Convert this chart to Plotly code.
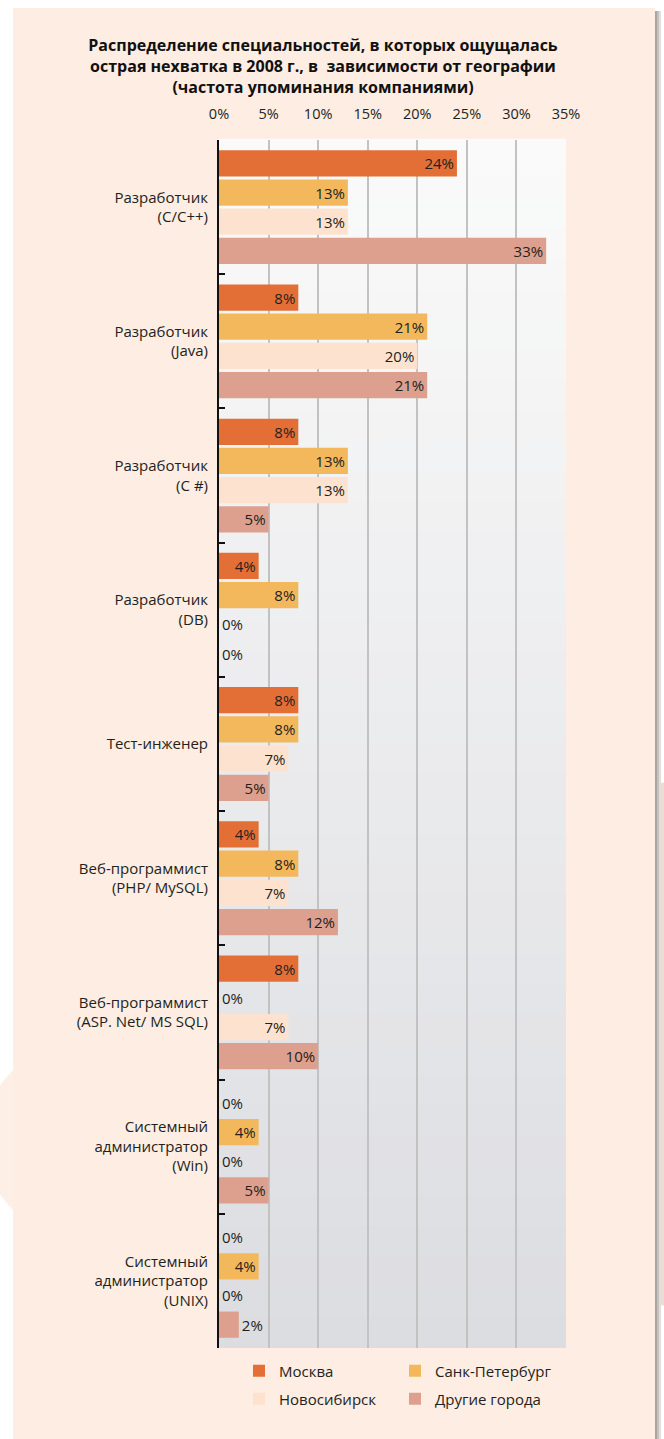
import plotly.graph_objects as go

# data
categories = [
    'Разработчик<br>(C/C++)',
    'Разработчик<br>(Java)',
    'Разработчик<br>(C #)',
    'Разработчик<br>(DB)',
    'Тест-инженер',
    'Веб-программист<br>(PHP/ MySQL)',
    'Веб-программист<br>(ASP. Net/ MS SQL)',
    'Системный<br>администратор<br>(Win)',
    'Системный<br>администратор<br>(UNIX)',
]
moscow = [24, 8, 8, 4, 8, 4, 8, 0, 0]
spb = [13, 21, 13, 8, 8, 8, 0, 4, 4]
novosib = [13, 20, 13, 0, 7, 7, 7, 0, 0]
others = [33, 21, 5, 0, 5, 12, 10, 5, 2]
x_ticks = [0, 5, 10, 15, 20, 25, 30, 35]

series = [
    ('Москва', moscow, '#e46f36', 'legend'),
    ('Санк-Петербург', spb, '#f3b85c', 'legend2'),
    ('Новосибирск', novosib, '#fde3cf', 'legend3'),
    ('Другие города', others, '#dea08e', 'legend4'),
]

W, H = 664, 1439
L, R, T, B = 219, 98, 140, 91
PW, PH = W - L - R, H - T - B


def px_x(p):
    return (p - L) / PW


def px_y(p):
    return (H - B - p) / PH


FONT = 'Open Sans'
TXT = '#231f20'

fig = go.Figure()
for name, vals, color, leg in series:
    fig.add_trace(go.Bar(
        y=categories, x=vals, name=name, orientation='h',
        marker_color=color, marker_line_width=0,
        text=[f'{v}%' for v in vals],
        textposition=['outside' if v < 3 else 'inside' for v in vals],
        insidetextanchor='end',
        textfont=dict(color=TXT, size=15, family=FONT),
        constraintext='none', cliponaxis=False,
        legend=leg,
    ))

shapes = []
# faint circles outside the panel
shapes.append(dict(type='circle', xref='paper', yref='paper', layer='below',
                   x0=px_x(-17), x1=px_x(175), y0=px_y(1236), y1=px_y(1044),
                   fillcolor='#fdefe6', line_width=0))
shapes.append(dict(type='circle', xref='paper', yref='paper', layer='below',
                   x0=px_x(436), x1=px_x(964), y0=px_y(1308), y1=px_y(780),
                   fillcolor='#eddcd0', line_width=0))
# panel shadow + peach panel
for x0, x1, c in [(655, 661, '#e2dedb'), (655, 659, '#c6c1bd'), (655, 657, '#aaa5a1')]:
    shapes.append(dict(type='rect', xref='paper', yref='paper', layer='below',
                       x0=px_x(x0), x1=px_x(x1), y0=px_y(1439), y1=px_y(11),
                       fillcolor=c, line_width=0))
shapes.append(dict(type='rect', xref='paper', yref='paper', layer='below',
                   x0=px_x(13), x1=px_x(655), y0=px_y(1439), y1=px_y(8),
                   fillcolor='#fdede2', line_width=0))
# plot area gradient, white at top to light grey at bottom
n = 40
for i in range(n):
    t = i / (n - 1)
    c0, c1 = (250, 250, 250), (220, 221, 225)
    c = tuple(round(a + (b - a) * t) for a, b in zip(c0, c1))
    shapes.append(dict(type='rect', xref='x domain', yref='y domain', layer='below',
                       x0=0, x1=1, y0=1 - (i + 1) / n, y1=1 - i / n + 0.001,
                       fillcolor='rgb(%d,%d,%d)' % c, line_width=0))

legend_base = dict(font=dict(family=FONT, size=15, color=TXT),
                   bgcolor='rgba(0,0,0,0)', xanchor='left', yanchor='middle',
                   itemwidth=30)
legend_pos = {
    'legend': (239, 1371),
    'legend2': (395, 1371),
    'legend3': (239, 1399),
    'legend4': (395, 1399),
}
legends = {k: dict(legend_base, x=px_x(x), y=px_y(y)) for k, (x, y) in legend_pos.items()}

fig.update_layout(
    width=W, height=H,
    margin=dict(l=L, r=R, t=T, b=B, pad=0),
    paper_bgcolor='white',
    plot_bgcolor='rgba(0,0,0,0)',
    barmode='group', bargap=0.13, bargroupgap=0.1,
    font=dict(family=FONT, color=TXT),
    title=dict(
        text='<b>Распределение специальностей, в которых ощущалась<br>'
             'острая нехватка в 2008 г., в  зависимости от географии<br>'
             '(частота упоминания компаниями)</b>',
        xref='container', x=323 / W, xanchor='center',
        y=1 - 51 / H, yanchor='middle',
        font=dict(family=FONT, size=16, color='#111'),
    ),
    xaxis=dict(side='top', range=[0, 35], tickvals=x_ticks,
               ticktext=[f'{v}%' for v in x_ticks],
               showgrid=True, gridcolor='#c2c2c2', gridwidth=1.5,
               zeroline=False, showline=False,
               ticks='outside', ticklen=14, tickcolor='rgba(0,0,0,0)',
               tickfont=dict(size=14.5, color=TXT), fixedrange=True),
    yaxis=dict(type='category', autorange='reversed',
               showline=True, linecolor='#111', linewidth=2,
               ticks='inside', tickson='boundaries', ticklen=6,
               tickcolor='#111', tickwidth=1.5, showgrid=False,
               ticklabelstandoff=6,
               tickfont=dict(size=15, color=TXT)),
    shapes=shapes,
    showlegend=True,
    **legends,
)

fig.write_html('out.html', config={'displayModeBar': False},
               post_script="document.body.style.margin='0';")
